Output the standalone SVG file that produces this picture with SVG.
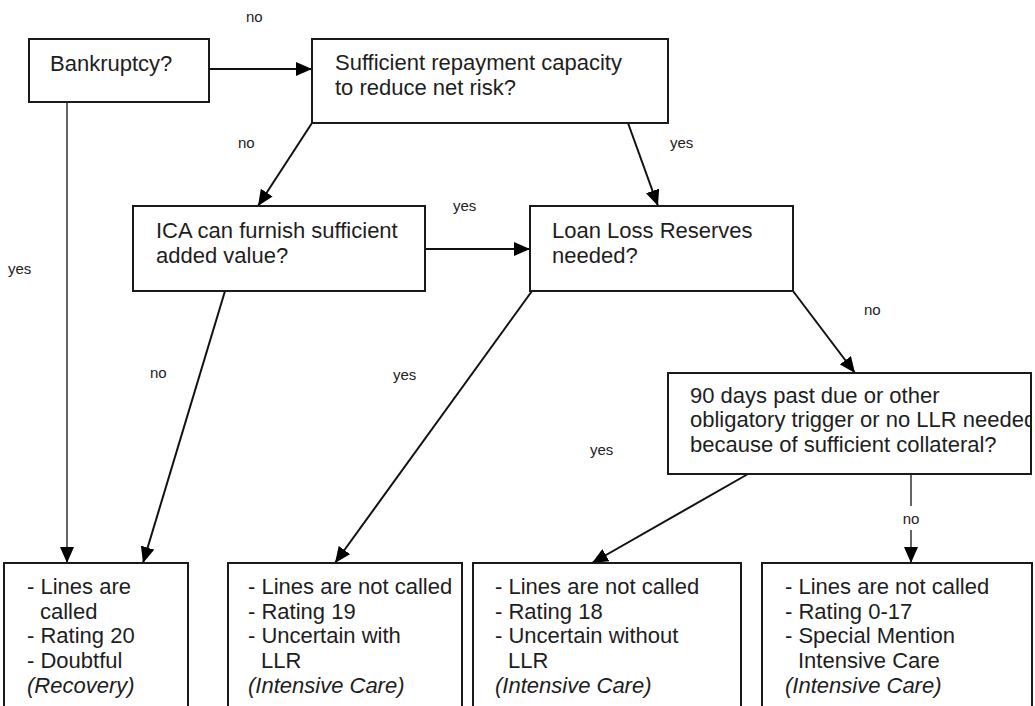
<svg xmlns="http://www.w3.org/2000/svg" width="1035" height="706" viewBox="0 0 1035 706">
<style>
.box{fill:#fff;stroke:#1a1a1a;stroke-width:2}
.t{font-family:"Liberation Sans",Arial,sans-serif;font-size:22px;fill:#1e1e1e}
.i{font-style:italic}
.lbl{font-family:"Liberation Sans",Arial,sans-serif;font-size:15px;fill:#222}
.ln{fill:none;stroke:#111;stroke-width:2;marker-end:url(#ah)}
.lg{fill:none;stroke:#666;stroke-width:2;marker-end:url(#ah)}
</style>
<defs>
<marker id="ah" markerUnits="userSpaceOnUse" markerWidth="16" markerHeight="14" viewBox="0 0 16 14" refX="16" refY="7" orient="auto">
<path d="M0,0 L16,7 L0,14 Z" fill="#000"/>
</marker>
<clipPath id="c90"><rect x="668" y="373" width="363" height="101"/></clipPath>
</defs>
<rect width="1035" height="706" fill="#fff"/>
<g id="connectors">
<line class="ln" x1="209" y1="69" x2="312" y2="69"/>
<line class="lg" x1="67" y1="102" x2="67" y2="563"/>
<line class="ln" x1="312" y1="123" x2="258" y2="206"/>
<line class="ln" x1="628" y1="123" x2="658" y2="206"/>
<line class="ln" x1="425" y1="249" x2="530" y2="249"/>
<line class="ln" x1="225" y1="291" x2="143" y2="563"/>
<line class="ln" x1="532" y1="291" x2="335" y2="563"/>
<line class="ln" x1="793" y1="291" x2="855" y2="373"/>
<line class="ln" x1="748" y1="474" x2="592" y2="563"/>
<line class="lg" x1="911" y1="474" x2="911" y2="563"/>
<g id="labels">
<text class="lbl" x="246" y="22">no</text>
<text class="lbl" x="8" y="274">yes</text>
<text class="lbl" x="238" y="148">no</text>
<text class="lbl" x="670" y="148">yes</text>
<text class="lbl" x="453" y="211">yes</text>
<text class="lbl" x="150" y="378">no</text>
<text class="lbl" x="393" y="380">yes</text>
<text class="lbl" x="864" y="315">no</text>
<text class="lbl" x="590" y="455">yes</text>
<rect x="899" y="506" width="24" height="24" fill="#fff"/>
<text class="lbl" x="911" y="524" text-anchor="middle">no</text>
</g>
</g>
<g id="n-bankruptcy">
<rect class="box" x="29" y="39" width="180" height="63"/>
<text class="t" x="50" y="71">Bankruptcy?</text>
</g>
<g id="n-repayment">
<rect class="box" x="312" y="39" width="356" height="84"/>
<text class="t" x="335" y="70">Sufficient repayment capacity</text>
<text class="t" x="335" y="95">to reduce net risk?</text>
</g>
<g id="n-ica">
<rect class="box" x="133" y="206" width="292" height="85"/>
<text class="t" x="156" y="238">ICA can furnish sufficient</text>
<text class="t" x="156" y="263">added value?</text>
</g>
<g id="n-llr">
<rect class="box" x="530" y="206" width="263" height="85"/>
<text class="t" x="552" y="238">Loan Loss Reserves</text>
<text class="t" x="552" y="263">needed?</text>
</g>
<g id="n-90days">
<rect class="box" x="668" y="373" width="363" height="101"/>
<g clip-path="url(#c90)">
<text class="t" x="690" y="403">90 days past due or other</text>
<text class="t" x="690" y="427">obligatory trigger or no LLR needed</text>
<text class="t" x="690" y="452">because of sufficient collateral?</text>
</g>
</g>
<g id="n-recovery">
<rect class="box" x="4" y="563" width="184" height="160"/>
<text class="t" x="27" y="594">- Lines are</text>
<text class="t" x="40" y="619">called</text>
<text class="t" x="27" y="643">- Rating 20</text>
<text class="t" x="27" y="668">- Doubtful</text>
<text class="t i" x="27" y="693">(Recovery)</text>
</g>
<g id="n-rating19">
<rect class="box" x="228" y="563" width="234" height="160"/>
<text class="t" x="248" y="594">- Lines are not called</text>
<text class="t" x="248" y="619">- Rating 19</text>
<text class="t" x="248" y="643">- Uncertain with</text>
<text class="t" x="261" y="668">LLR</text>
<text class="t i" x="248" y="693">(Intensive Care)</text>
</g>
<g id="n-rating18">
<rect class="box" x="473" y="563" width="268" height="160"/>
<text class="t" x="495" y="594">- Lines are not called</text>
<text class="t" x="495" y="619">- Rating 18</text>
<text class="t" x="495" y="643">- Uncertain without</text>
<text class="t" x="508" y="668">LLR</text>
<text class="t i" x="495" y="693">(Intensive Care)</text>
</g>
<g id="n-rating017">
<rect class="box" x="762" y="563" width="270" height="160"/>
<text class="t" x="785" y="594">- Lines are not called</text>
<text class="t" x="785" y="619">- Rating 0-17</text>
<text class="t" x="785" y="643">- Special Mention</text>
<text class="t" x="798" y="668">Intensive Care</text>
<text class="t i" x="785" y="693">(Intensive Care)</text>
</g>
</svg>
